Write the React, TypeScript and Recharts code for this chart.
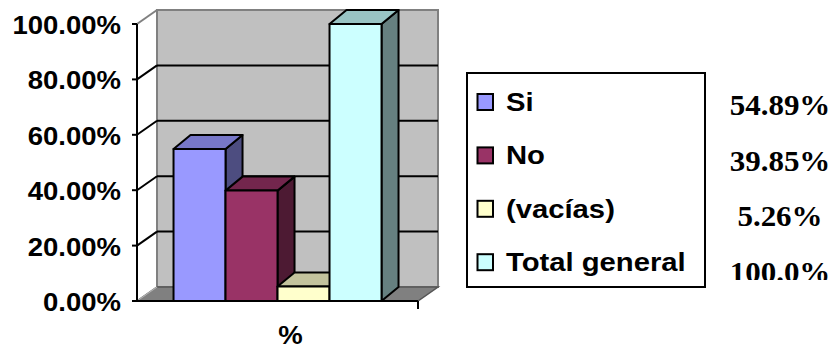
import React from 'react';
import { BarChart, Bar, XAxis, YAxis, CartesianGrid, ReferenceArea } from 'recharts';

// series shown in the legend, with their value (share of total)
const categories = ['Si', 'No', '(vacías)', 'Total general'];
const values = [0.5489, 0.3985, 0.0526, 1.0];
const valueLabels = ['54.89%', '39.85%', '5.26%', '100.0%'];
const yTicks = [0, 0.2, 0.4, 0.6, 0.8, 1];
const innerGridValues = [0.2, 0.4, 0.6, 0.8];
const axisTitle = '%';

// front / top / side shades, Excel 3D style
const palette = [
  { front: '#9999FF', top: '#7777C8', side: '#4D4D80' },
  { front: '#993366', top: '#73264D', side: '#4D1A33' },
  { front: '#FFFFCC', top: '#C3C39D', side: '#80806A' },
  { front: '#CCFFFF', top: '#99C4C4', side: '#668080' },
];

const data = [
  categories.reduce<Record<string, string | number>>(
    (row, _c, i) => {
      row[`s${i}`] = values[i];
      return row;
    },
    { name: axisTitle }
  ),
];

const W = 838;
const H = 349;
const WALL_DX = 20;
const WALL_DY = 14;
const BAR_DX = 17;
const BAR_DY = 14;
const SANS = '"Liberation Sans", Arial, sans-serif';
const SERIF = '"Liberation Serif", "Times New Roman", serif';

function Box3D(props: any) {
  const { x, y, width, height, colors } = props;
  if (width == null || height == null) return null;
  const top = `${x},${y} ${x + BAR_DX},${y - BAR_DY} ${x + width + BAR_DX},${y - BAR_DY} ${x + width},${y}`;
  const side = `${x + width},${y} ${x + width + BAR_DX},${y - BAR_DY} ${x + width + BAR_DX},${y + height - BAR_DY} ${x + width},${y + height}`;
  return (
    <g stroke="#000" strokeWidth={2} strokeLinejoin="round">
      <polygon points={side} fill={colors.side} />
      <polygon points={top} fill={colors.top} />
      <rect x={x} y={y} width={width} height={height} fill={colors.front} />
    </g>
  );
}

function Walls(props: any) {
  const { x, y, width, height } = props;
  const bottom = y + height;
  const floor = `${x},${bottom} ${x + width},${bottom} ${x + width + WALL_DX},${bottom - WALL_DY} ${x + WALL_DX},${bottom - WALL_DY}`;
  return (
    <g>
      <rect
        x={x + WALL_DX}
        y={y - WALL_DY}
        width={width}
        height={height}
        fill="#C0C0C0"
        stroke="#808080"
        strokeWidth={2}
      />
      <polygon points={floor} fill="#808080" stroke="#555" strokeWidth={1.5} />
      <line x1={x} y1={y} x2={x + WALL_DX} y2={y - WALL_DY} stroke="#808080" strokeWidth={2} />
      <line x1={x} y1={bottom} x2={x + WALL_DX} y2={bottom - WALL_DY} stroke="#B0B0B0" strokeWidth={1.5} />
      <line x1={x + width} y1={bottom} x2={x + width} y2={bottom + 8} stroke="#000" strokeWidth={2} />
    </g>
  );
}

function BackGridLine(props: any) {
  const { x1, y1, x2, y2, index } = props;
  return (
    <g key={`bg-${index}`} stroke="#000" strokeWidth={2}>
      <line x1={x1 + WALL_DX} y1={y1 - WALL_DY} x2={x2 + WALL_DX} y2={y2 - WALL_DY} />
      <line x1={x1} y1={y1} x2={x1 + WALL_DX} y2={y1 - WALL_DY} />
    </g>
  );
}

function YTick(props: any) {
  const { x, y, payload } = props;
  return (
    <g transform={`translate(${x},${y + 10}) scale(1.1,1)`}>
      <text textAnchor="end" fontFamily={SANS} fontWeight="bold" fontSize={25} fill="#000">
        {`${(payload.value * 100).toFixed(2)}%`}
      </text>
    </g>
  );
}

function XTick(props: any) {
  const { x, y, payload } = props;
  return (
    <g transform={`translate(${x + 13},${y + 43}) scale(1.1,1)`}>
      <text textAnchor="middle" fontFamily={SANS} fontWeight="bold" fontSize={25} fill="#000">
        {payload.value}
      </text>
    </g>
  );
}

function LegendOverlay() {
  const rowY = (i: number) => 102 + i * 53.4;
  const valY = (i: number) => 115 + i * 55.7;
  return (
    <svg
      width={W}
      height={H}
      style={{ position: 'absolute', left: 0, top: 0, pointerEvents: 'none' }}
    >
      <defs>
        <clipPath id="value-clip">
          <rect x={705} y={73} width={128} height={207} />
        </clipPath>
      </defs>
      <rect x={467} y={73} width={238} height={214} fill="none" stroke="#000" strokeWidth={2} />
      {categories.map((c, i) => (
        <g key={c}>
          <rect
            x={477.5}
            y={rowY(i) - 8}
            width={15.5}
            height={16}
            fill={palette[i].front}
            stroke="#000"
            strokeWidth={2}
          />
          <g transform={`translate(506,${rowY(i) + 9}) scale(1.17,1)`}>
            <text fontFamily={SANS} fontWeight="bold" fontSize={25} fill="#000">
              {c}
            </text>
          </g>
        </g>
      ))}
      <g clipPath="url(#value-clip)">
        {valueLabels.map((v, i) => (
          <g key={v} transform={`translate(780,${valY(i)}) scale(1.05,1)`}>
            <text
              textAnchor="middle"
              fontFamily={SERIF}
              fontWeight="bold"
              fontSize={29.5}
              fill="#000"
            >
              {v}
            </text>
          </g>
        ))}
      </g>
    </svg>
  );
}

export default function App() {
  return (
    <div style={{ position: 'absolute', left: 0, top: 0, width: W, height: H, background: '#fff' }}>
      <BarChart
        width={W}
        height={H}
        data={data}
        margin={{ top: 24, right: 420, bottom: 0, left: 0 }}
        barCategoryGap="13%"
        barGap={0}
      >
        <ReferenceArea
          y1={0}
          y2={1}
          ifOverflow="visible"
          shape={(p: any) => <Walls {...p} />}
          zIndex={-200}
        />
        <CartesianGrid
          vertical={false}
          horizontalValues={innerGridValues}
          horizontal={(p: any) => <BackGridLine {...p} />}
          stroke="#000"
        />
        {categories.map((c, i) => (
          <Bar
            key={c}
            dataKey={`s${i}`}
            name={c}
            isAnimationActive={false}
            shape={(p: any) => <Box3D {...p} colors={palette[i]} />}
          />
        ))}
        <YAxis
          width={137}
          domain={[0, 1]}
          ticks={yTicks}
          interval={0}
          tickSize={5}
          tickMargin={11}
          axisLine={{ stroke: '#000', strokeWidth: 2 }}
          tickLine={{ stroke: '#000', strokeWidth: 2 }}
          tick={<YTick />}
        />
        <XAxis
          dataKey="name"
          height={48}
          tickLine={false}
          tickSize={0}
          tickMargin={0}
          axisLine={{ stroke: '#000', strokeWidth: 2 }}
          tick={<XTick />}
        />
      </BarChart>
      <LegendOverlay />
    </div>
  );
}
